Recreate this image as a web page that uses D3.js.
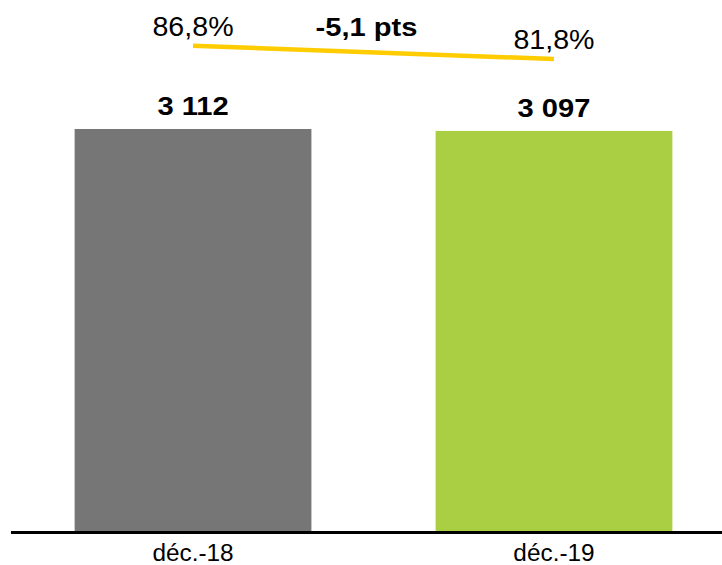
<!DOCTYPE html>
<html>
<head>
<meta charset="utf-8">
<script src="https://cdn.jsdelivr.net/npm/d3@7"></script>
<style>
  body { margin: 0; background: #fff; }
  text { font-family: "Liberation Sans", Arial, sans-serif; }
</style>
</head>
<body>
<div id="chart"></div>
<script>
var categories = ["déc.-18", "déc.-19"];
var values = [3112, 3097];
var valueLabels = ["3 112", "3 097"];
var rates = [86.8, 81.8];
var rateLabels = ["86,8%", "81,8%"];
var deltaLabel = "-5,1 pts";
var colors = ["#767676", "#AACF42"];

var width = 722,
  height = 565,
  baseY = 531;

var svg = d3.select("#chart")
  .append("svg")
  .attr("width", width)
  .attr("height", height);

var x = d3.scaleBand()
  .domain(categories)
  .range([12, 735])
  .paddingInner(0.344)
  .paddingOuter(0.1735);

var y = d3.scaleLinear()
  .domain([0, 3500])
  .range([baseY, baseY - 3500 * 0.12918]);

// percent line sits above the bars
var yRate = d3.scaleLinear()
  .domain([80, 90])
  .range([63.8, 37.2]);

function cx(d) { return x(d) + x.bandwidth() / 2 }

// the original text is a bit wider than Liberation Sans, stretch it
function place(px, py, sx) {
  return "translate(" + px + "," + py + ") scale(" + sx + ",1)"
}

svg.selectAll(".bar")
  .data(values)
  .enter().append("rect")
  .attr("class", "bar")
  .attr("x", function(d, i) { return x(categories[i]) })
  .attr("width", x.bandwidth())
  .attr("y", function(d) { return y(d) })
  .attr("height", function(d) { return baseY - y(d) })
  .attr("fill", function(d, i) { return colors[i] });

svg.selectAll(".val")
  .data(values)
  .enter().append("text")
  .attr("class", "val")
  .attr("transform", function(d, i) { return place(cx(categories[i]), y(d) - 14, 1.12) })
  .attr("text-anchor", "middle")
  .attr("font-size", 26)
  .attr("font-weight", "bold")
  .text(function(d, i) { return valueLabels[i] });

// baseline
svg.append("line")
  .attr("x1", 11)
  .attr("x2", width)
  .attr("y1", baseY + 1.5)
  .attr("y2", baseY + 1.5)
  .attr("stroke", "#000")
  .attr("stroke-width", 3);

svg.selectAll(".cat")
  .data(categories)
  .enter().append("text")
  .attr("class", "cat")
  .attr("transform", function(d) { return place(cx(d), 561, 1.06) })
  .attr("text-anchor", "middle")
  .attr("font-size", 23)
  .text(function(d) { return d });

var line = d3.line()
  .x(function(d, i) { return cx(categories[i]) })
  .y(function(d) { return yRate(d) });

svg.append("path")
  .datum(rates)
  .attr("d", line)
  .attr("fill", "none")
  .attr("stroke", "#FFCC00")
  .attr("stroke-width", 4.5);

svg.selectAll(".rate")
  .data(rates)
  .enter().append("text")
  .attr("class", "rate")
  .attr("transform", function(d, i) { return place(cx(categories[i]), yRate(d) - 10, 1.06) })
  .attr("text-anchor", "middle")
  .attr("font-size", 27)
  .text(function(d, i) { return rateLabels[i] });

svg.append("text")
  .attr("transform", place((cx(categories[0]) + cx(categories[1])) / 2 - 7, 36, 1.12))
  .attr("text-anchor", "middle")
  .attr("font-size", 26)
  .attr("font-weight", "bold")
  .text(deltaLabel);
</script>
</body>
</html>
